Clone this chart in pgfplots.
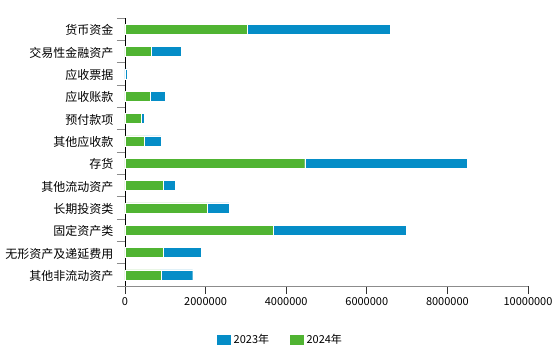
\documentclass[border=0pt]{standalone}
\usepackage{fontspec}
\setmainfont{Noto Sans CJK SC}
\usepackage{pgfplots}
\pgfplotsset{compat=1.18}
\definecolor{c23}{HTML}{058DC7}
\definecolor{c24}{HTML}{50B432}
\begin{document}
\begin{tikzpicture}
\useasboundingbox (0,0) rectangle (560pt,346pt);
\begin{axis}[
  at={(125pt,60pt)}, anchor=south west,
  scale only axis, width=403pt, height=268pt,
  xbar stacked, bar width=10pt,
  xmin=0, xmax=10000000,
  ymin=-0.5, ymax=11.5,
  ytick={0,...,11},
  yticklabels={其他非流动资产,无形资产及递延费用,固定资产类,长期投资类,其他流动资产,存货,其他应收款,预付款项,应收账款,应收票据,交易性金融资产,货币资金},
  minor ytick={-0.5,0.5,...,11.5},
  xtick={0,2000000,...,10000000},
  scaled x ticks=false,
  xticklabel style={/pgf/number format/fixed, /pgf/number format/1000 sep={}, /pgf/number format/assume math mode=true, font=\fontsize{11}{13}\selectfont},
  yticklabel style={font=\fontsize{12}{14}\selectfont, yshift=-1pt},
  axis x line*=bottom, axis y line*=left,
  x axis line style={draw=gray!90,-, line width=0.8pt},
  y axis line style={draw=black,-},
  tick align=outside,
  major tick length=8pt, minor tick length=8pt,
  ytick style={draw=none},
  minor y tick style={draw=gray!90, line width=0.8pt},
  xtick style={draw=black!80, line width=0.8pt},
  reverse legend,
  legend columns=2,
  legend style={at={(0.385,-0.2)}, anchor=center, draw=none, font=\fontsize{11}{13}\selectfont,
    /tikz/every even column/.append style={column sep=18pt}},
  legend image code/.code={\fill[#1] (0pt,-5.5pt) rectangle (15pt,5.5pt);},
]
\addplot[fill=c24, draw=white, line width=0.4pt] coordinates {
(890000,0) (950000,1) (3680000,2) (2040000,3) (940000,4) (4460000,5) (470000,6) (400000,7) (620000,8) (0,9) (640000,10) (3030000,11)};
\addplot[fill=c23, draw=white, line width=0.4pt] coordinates {
(790000,0) (940000,1) (3290000,2) (540000,3) (300000,4) (4040000,5) (420000,6) (80000,7) (380000,8) (60000,9) (760000,10) (3550000,11)};
\legend{2024年,2023年}
\end{axis}
\end{tikzpicture}
\end{document}
